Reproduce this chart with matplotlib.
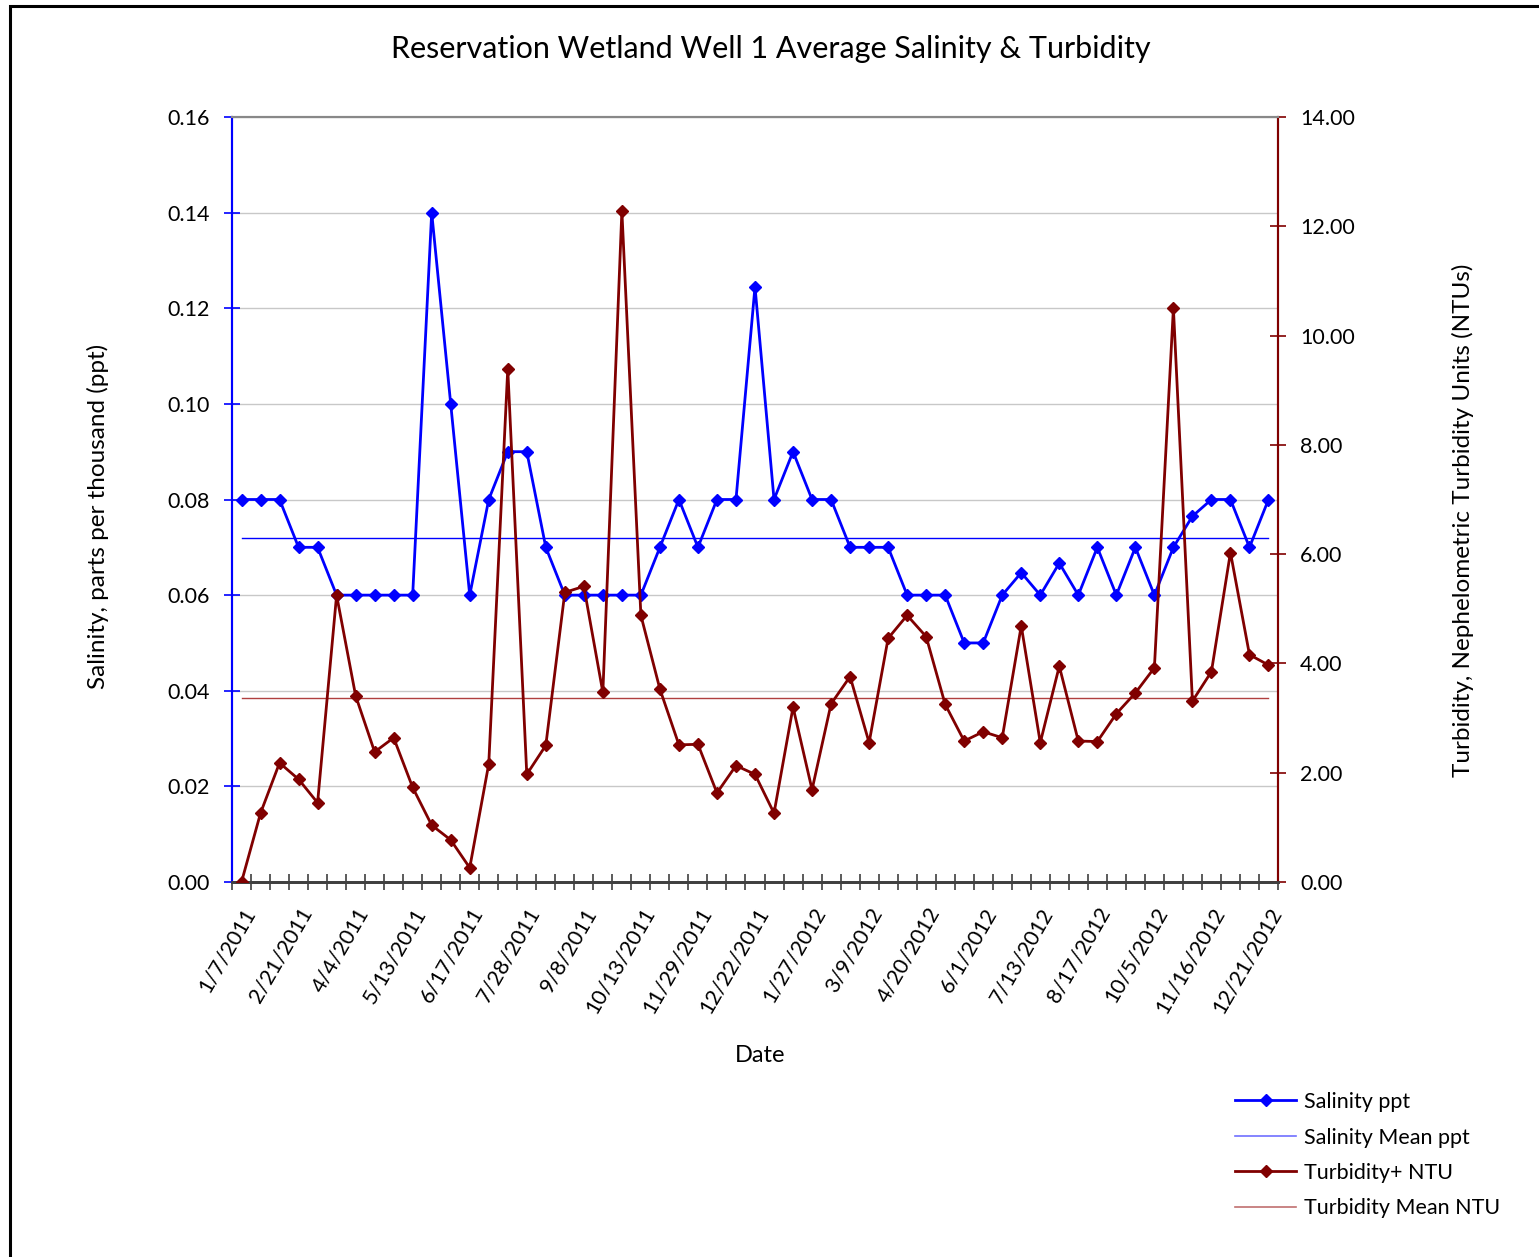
import matplotlib
matplotlib.use("Agg")
import matplotlib.pyplot as plt
from matplotlib.lines import Line2D
from matplotlib.patches import Rectangle
import numpy as np

plt.rcParams['font.family'] = ['Lato', 'DejaVu Sans']

# ---- data ----
tick_labels = ["1/7/2011", "2/21/2011", "4/4/2011", "5/13/2011", "6/17/2011",
               "7/28/2011", "9/8/2011", "10/13/2011", "11/29/2011", "12/22/2011",
               "1/27/2012", "3/9/2012", "4/20/2012", "6/1/2012", "7/13/2012",
               "8/17/2012", "10/5/2012", "11/16/2012", "12/21/2012"]
label_every = 3

salinity = [0.08, 0.08, 0.08, 0.07, 0.07, 0.06, 0.06, 0.06, 0.06, 0.06,
            0.14, 0.10, 0.06, 0.08, 0.09, 0.09, 0.07, 0.06, 0.06, 0.06,
            0.06, 0.06, 0.07, 0.08, 0.07, 0.08, 0.08, 0.1245, 0.08, 0.09,
            0.08, 0.08, 0.07, 0.07, 0.07, 0.06, 0.06, 0.06, 0.05, 0.05,
            0.06, 0.0647, 0.06, 0.0667, 0.06, 0.07, 0.06, 0.07, 0.06, 0.07,
            0.0765, 0.08, 0.08, 0.07, 0.08]

turbidity = [0.00, 1.26, 2.18, 1.88, 1.45, 5.25, 3.41, 2.38, 2.64, 1.73,
             1.04, 0.77, 0.26, 2.16, 9.39, 1.97, 2.50, 5.30, 5.41, 3.47,
             12.28, 4.88, 3.53, 2.51, 2.52, 1.63, 2.13, 1.97, 1.26, 3.20,
             1.69, 3.26, 3.76, 2.55, 4.46, 4.88, 4.49, 3.25, 2.58, 2.75,
             2.64, 4.69, 2.55, 3.95, 2.58, 2.57, 3.08, 3.46, 3.92, 10.50,
             3.31, 3.85, 6.03, 4.16, 3.97]

salinity_mean = 0.072
turbidity_mean = 3.36

# ---- figure ----
W, H = 1539, 1257
fig = plt.figure(figsize=(W / 100, H / 100), dpi=100)
fig.patch.set_facecolor('white')

# outer chart border
fig.patches.append(Rectangle((10 / W, -0.01), 1.1, 1 - 6 / H + 0.01,
                             transform=fig.transFigure, fill=False,
                             edgecolor='black', linewidth=2.2))

ax = fig.add_axes([232 / W, 1 - 882 / H, (1278 - 232) / W, (882 - 117) / H])
ax2 = ax.twinx()

n = len(salinity)
x = np.arange(n)

blue = '#0000FF'
maroon = '#800000'

ax.plot(x, salinity, color=blue, lw=2.0, marker='D', markersize=6.5,
        markeredgecolor=blue, markerfacecolor=blue, zorder=5)
ax.plot([x[0], x[-1]], [salinity_mean, salinity_mean], color=blue, lw=1.0, zorder=4)

ax2.plot(x, turbidity, color=maroon, lw=2.0, marker='D', markersize=6.5,
         markeredgecolor=maroon, markerfacecolor=maroon, zorder=5)
ax2.plot([x[0], x[-1]], [turbidity_mean, turbidity_mean], color='#B04040', lw=1.0, zorder=4)

ax.set_xlim(-0.5, n - 0.5)
ax.set_ylim(0, 0.16)
ax2.set_ylim(0, 14)

ax.set_yticks(np.arange(0, 0.161, 0.02))
ax.set_yticklabels([f"{v:.2f}" for v in np.arange(0, 0.161, 0.02)])
ax2.set_yticks(np.arange(0, 14.1, 2))
ax2.set_yticklabels([f"{v:.2f}" for v in np.arange(0, 14.1, 2)])

ax.yaxis.grid(True, color='#C8C8C8', lw=1.0)
ax.set_axisbelow(True)

# x ticks: marks at bin boundaries, labels every 3rd category
ax.set_xticks(np.arange(-0.5, n, 1.0))
ax.set_xticklabels([])
ax.set_xticks(x[::label_every], minor=True)
ax.set_xticklabels(tick_labels, minor=True, rotation=60, ha='right', va='top',
                   rotation_mode='anchor', fontsize=15.5)
ax.tick_params(axis='x', which='minor', length=0, pad=16)
ax.tick_params(axis='x', which='major', direction='inout', length=12,
               width=1.2, color='#404040')

ax.tick_params(axis='y', direction='inout', length=12, width=1.2, color=blue,
               labelsize=15.5, pad=10)
ax2.tick_params(axis='y', direction='inout', length=12, width=1.2, color=maroon,
                labelsize=15.5, pad=10)

for a in (ax, ax2):
    a.spines['top'].set_color('#888888')
    a.spines['top'].set_linewidth(1.5)
    a.spines['bottom'].set_color('#404040')
    a.spines['bottom'].set_linewidth(2.0)
    a.spines['left'].set_color(blue)
    a.spines['left'].set_linewidth(1.5)
    a.spines['right'].set_color(maroon)
    a.spines['right'].set_linewidth(1.5)

ax.set_ylabel("Salinity, parts per thousand (ppt)", fontsize=17.5)
ax.yaxis.set_label_coords(-(232 - 109) / (1278 - 232), (882 - 516) / (882 - 117))
ax2.set_ylabel("Turbidity, Nephelometric Turbidity Units (NTUs)", fontsize=17.5)
ax2.yaxis.set_label_coords(1 + (1452 - 1278) / (1278 - 232), (882 - 520) / (882 - 117))
ax.set_xlabel("Date", fontsize=17)
ax.xaxis.set_label_coords((760 - 232) / (1278 - 232), -(1045 - 882) / (882 - 117))

fig.text(771 / W, 1 - 49 / H, "Reservation Wetland Well 1 Average Salinity & Turbidity",
         ha='center', va='center', fontsize=22)

handles = [
    Line2D([], [], color=blue, lw=2.0, marker='D', markersize=6.5),
    Line2D([], [], color='#7070FF', lw=1.2),
    Line2D([], [], color=maroon, lw=2.0, marker='D', markersize=6.5),
    Line2D([], [], color='#C07070', lw=1.2),
]
labels = ["Salinity ppt", "Salinity Mean ppt", "Turbidity+ NTU", "Turbidity Mean NTU"]
fig.legend(handles, labels, loc='upper left', bbox_to_anchor=(1235 / W, 1 - 1092 / H),
           frameon=False, fontsize=15.5, handlelength=2.85, handletextpad=0.35,
           labelspacing=0.72, borderpad=0, borderaxespad=0)

fig.savefig("out.png", dpi=100)
